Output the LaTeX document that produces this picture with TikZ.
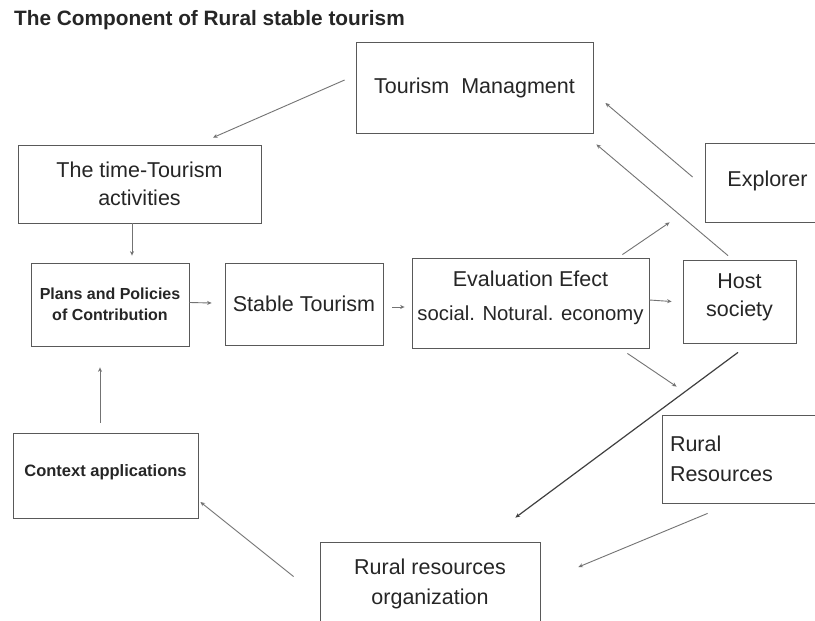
\documentclass[tikz,border=0pt]{standalone}
\usepackage{fontspec}
\setmainfont{Liberation Sans}
\usetikzlibrary{arrows.meta,calc}

\newlength{\du}
\setlength{\du}{1pt}

\tikzset{
  box/.style={draw=black!65, line width=0.8pt, rectangle, inner sep=0pt, align=center,
    text=black!85, font=\fontsize{21.5}{28}\selectfont},
  smallbox/.style={box, font=\bfseries\fontsize{16}{21}\selectfont},
  conn/.style={draw=black!55, line width=0.9pt, -{Stealth[length=4.5pt,width=4pt]}},
}

\begin{document}
\begin{tikzpicture}
\pgftransformxscale{1.000000}
\pgftransformyscale{-1.000000}
\useasboundingbox (0\du,0\du) rectangle (815\du,621\du);
\fill[white] (0\du,0\du) rectangle (815\du,621\du);
\clip (0\du,0\du) rectangle (815\du,621\du);
% title
\node[anchor=west, inner sep=0pt, text=black!85, font=\bfseries\fontsize{20.8}{24}\selectfont] (title) at (14\du,20\du){The Component of Rural stable tourism};
% boxes
\node[box, minimum width=237\du, minimum height=91\du] (tm) at (474.5\du,87.5\du){Tourism~~Managment};
\node[box, minimum width=243\du, minimum height=78\du] (time) at (139.5\du,184\du){The time-Tourism\\activities};
\node[smallbox, minimum width=158\du, minimum height=83\du] (plans) at (110\du,304.5\du){Plans and Policies\\of Contribution};
\node[box, minimum width=158\du, minimum height=82\du] (stable) at (304\du,304\du){Stable Tourism};
\node[box, minimum width=237\du, minimum height=90\du] (eval) at (530.5\du,303\du){Evaluation Efect\\[6pt]{\fontsize{20.3}{28}\selectfont social. Notural. economy}\\[-14pt]{}};
\node[box, minimum width=113\du, minimum height=83\du] (host) at (739.5\du,301.5\du){Host\\society\\[-16pt]{}};
\node[box, minimum width=125\du, minimum height=79\du] (expl) at (767.5\du,182.5\du){Explorer\\[-20pt]{}};
\node[box, minimum width=168\du, minimum height=88\du, align=left, text width=152\du] (rr) at (746\du,459\du){Rural\\[2pt]Resources};
\node[smallbox, minimum width=185\du, minimum height=85\du, font=\bfseries\fontsize{16.5}{21}\selectfont] (ctx) at (105.5\du,475.5\du){Context applications\\[-11pt]{}};
\node[box, minimum width=220\du, minimum height=83\du] (rro) at (430\du,583.5\du){Rural resources\\[2pt]organization};
% connectors
\draw[conn] ($(tm.west)+(-11pt,-7.5pt)$) -- ($(time.north)+(73.5pt,-7pt)$);
\draw[conn] ($(time.south)+(-7.5pt,0pt)$) -- ($(plans.north)+(22pt,-7pt)$);
\draw[conn] ($(plans.east)+(0pt,-2pt)$) -- ($(stable.west)+(-13pt,-1pt)$);
\draw[conn] ($(stable.east)+(9pt,3pt)$) -- ($(eval.west)+(-7pt,4pt)$);
\draw[conn] ($(eval.east)+(0pt,-3pt)$) -- ($(host.west)+(-11pt,0pt)$);
\draw[conn] ($(eval.north east)+(-27pt,-3pt)$) -- ($(expl.south west)+(-35pt,0pt)$);
\draw[conn] ($(host.north)+(-11.5pt,-4pt)$) -- ($(tm.south east)+(3pt,11pt)$);
\draw[conn] ($(expl.west)+(-12pt,-5.5pt)$) -- ($(tm.east)+(12pt,15.5pt)$);
\draw[conn] ($(eval.south east)+(-22pt,5pt)$) -- ($(rr.north west)+(15pt,-28pt)$);
\draw[conn, draw=black!75, line width=1.2pt] ($(host.south)+(-1.5pt,9pt)$) -- ($(rro.north east)+(-25pt,-24pt)$);
\draw[conn] ($(rr.south west)+(46pt,10pt)$) -- ($(rro.east)+(38pt,-16.5pt)$);
\draw[conn] ($(rro.north west)+(-26pt,35pt)$) -- ($(ctx.east)+(2pt,26.5pt)$);
\draw[conn] ($(ctx.north)+(-5.5pt,-10pt)$) -- ($(plans.south)+(-10pt,21pt)$);
\end{tikzpicture}
\end{document}
